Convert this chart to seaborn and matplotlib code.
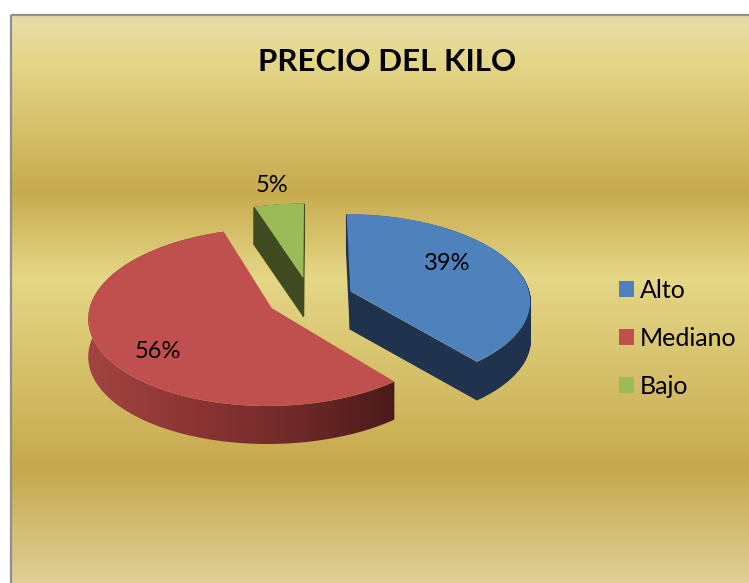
import numpy as np
import matplotlib
matplotlib.use("Agg")
import matplotlib.pyplot as plt
import seaborn as sns
from matplotlib.colors import LinearSegmentedColormap
from matplotlib.collections import PolyCollection
from matplotlib.patches import Polygon, Rectangle
from matplotlib.transforms import Transform

categories = ["Alto", "Mediano", "Bajo"]
values = [39, 56, 5]
explode = [0.24, 0.24, 0.24]
top_colors = ["#4F81BD", "#C0504D", "#9BBB59"]
side_colors = ["#1F334F", "#7A2E2E", "#414B21"]
red_side_stops = ["#A34442", "#8C3535", "#702A2A", "#4A1A1A"]
title = "PRECIO DEL KILO"

bg_pos = [0.0, 0.07, 0.31, 0.465, 0.8, 1.0]
bg_cols = ["#E5DCAA", "#E6D88C", "#C7AB4E", "#E5D786", "#C6A94D", "#DFCF96"]
label_xy = [(447, 263), (158, 351), (272, 185)]

W, H = 749, 583
X0, Y0, A, B, K = 310.0, 298.0, 180.0, 86.0, 0.10
DEPTH = 38

sns.set_theme(style="white")
plt.rcParams["font.family"] = ["Lato", "DejaVu Sans"]


class Persp(Transform):
    input_dims = output_dims = 2
    has_inverse = False
    is_separable = False

    def transform_non_affine(self, values):
        p = np.asarray(values, dtype=float)
        w = 1 + K * p[:, 1]
        return np.column_stack([X0 + A * p[:, 0] / w, Y0 - B * p[:, 1] / w])


persp = Persp()
fig = plt.figure(figsize=(W / 100, H / 100), dpi=100, facecolor="white")
ax = fig.add_axes([0, 0, 1, 1])

palette = sns.color_palette(top_colors)
wedges, _, autotexts = ax.pie(
    values, explode=explode, colors=palette, startangle=90, counterclock=False,
    autopct="%1.0f%%", textprops=dict(fontsize=17, color="black"),
    wedgeprops=dict(linewidth=0, zorder=4),
)
for w, t, xy in zip(wedges, autotexts, label_xy):
    w.set_transform(persp + ax.transData)
    t.set_position(xy)
    t.set_zorder(6)


def arc_pixels(w, n=120):
    th = np.radians(np.linspace(w.theta1, w.theta2, n))
    cx, cy = w.center
    return persp.transform(np.column_stack([cx + w.r * np.cos(th), cy + w.r * np.sin(th)]))


def apex_pixel(w):
    return persp.transform(np.array([w.center], dtype=float))


# Extruded sides for blue and green
for i in (0, 2):
    w = wedges[i]
    outline = np.vstack([apex_pixel(w), arc_pixels(w), apex_pixel(w)]) + [0, 1]
    quads = [[outline[j], outline[j + 1], outline[j + 1] + [0, DEPTH - 1], outline[j] + [0, DEPTH - 1]]
             for j in range(len(outline) - 1)]
    ax.add_collection(PolyCollection(quads, facecolors=side_colors[i], edgecolors=side_colors[i],
                                     linewidths=1.0, zorder=2))

# Red rim with horizontal gradient
arc = arc_pixels(wedges[1])
band = np.vstack([arc, (arc + [0, DEPTH])[::-1]])
poly = Polygon(band, closed=True, facecolor="none", edgecolor="none")
ax.add_patch(poly)
cmap = LinearSegmentedColormap.from_list("rim", red_side_stops)
xmin, xmax = band[:, 0].min(), band[:, 0].max()
im = ax.imshow(np.linspace(0, 1, 256)[None, :], cmap=cmap, aspect="auto",
               extent=(xmin, xmax, band[:, 1].max(), band[:, 1].min()), zorder=2)
im.set_clip_path(poly)

# Panel background
bg = LinearSegmentedColormap.from_list("bg", list(zip(bg_pos, bg_cols)))
ax.imshow(np.linspace(0, 1, 512)[:, None], cmap=bg, aspect="auto",
          extent=(11, W + 2, H, 15), zorder=0)
ax.add_patch(Rectangle((11, 15), W, H, facecolor="none", edgecolor="#8E8E8E", linewidth=1.6, zorder=1))

ax.text(387, 62, title, ha="center", va="center", fontsize=22.5, fontweight="bold", color="black", zorder=6)

leg = ax.legend(wedges, categories, loc="upper left", bbox_to_anchor=(619 / W, 1 - 279 / H),
                frameon=False, fontsize=18, handlelength=0.58, handleheight=0.58,
                handletextpad=0.26, labelspacing=1.0, borderpad=0, borderaxespad=0,
                labelcolor="black")
leg.set_zorder(6)
for h, c in zip(leg.legend_handles, palette):
    h.set_facecolor(c)

ax.set_aspect("auto")
ax.set_xlim(0, W)
ax.set_ylim(H, 0)
ax.axis("off")
fig.savefig("out.png", dpi=100, facecolor="white")
